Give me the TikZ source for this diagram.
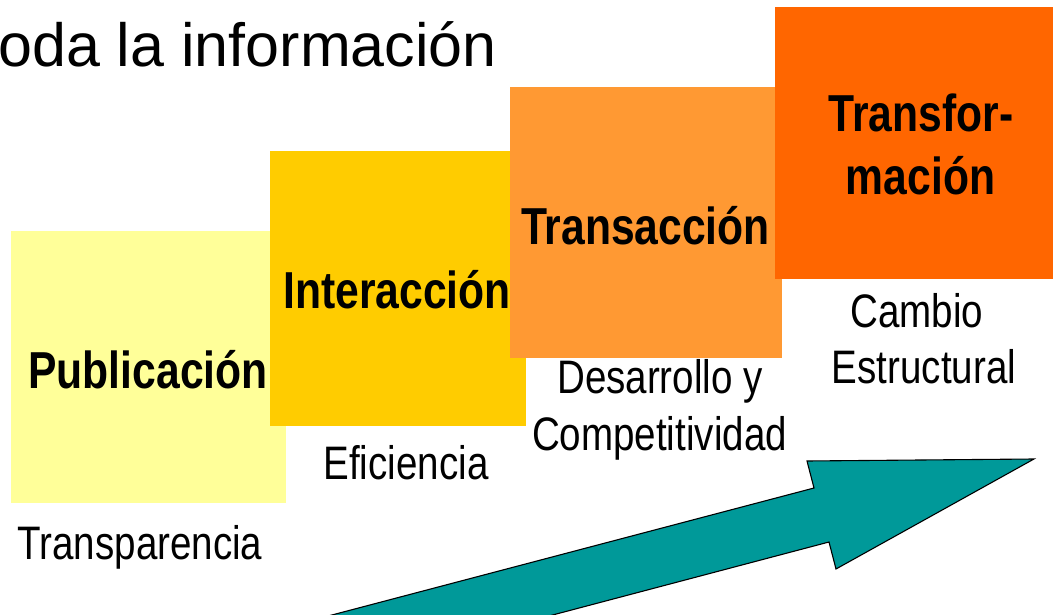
\documentclass[tikz,border=0pt]{standalone}
\usepackage{fontspec}
\setmainfont{Liberation Sans}
\newfontfamily\narrowsans[FakeStretch=0.82]{Liberation Sans}
\definecolor{pubc}{HTML}{FFFF99}
\definecolor{intc}{HTML}{FFCC00}
\definecolor{trac}{HTML}{FF9933}
\definecolor{tfmc}{HTML}{FF6600}
\definecolor{arrc}{HTML}{009999}
\begin{document}
\begin{tikzpicture}[x=1pt,y=-1pt,
  stagebox/.style={draw=none, inner sep=0pt, outer sep=0pt, anchor=north west},
  boxtitle/.style={anchor=base, inner sep=0pt, font=\narrowsans\bfseries\fontsize{52}{60}\selectfont},
  stagelabel/.style={anchor=base, inner sep=0pt, font=\narrowsans\fontsize{47}{56}\selectfont},
  bigarrow/.style={fill=arrc, draw=black, line width=1.1pt, line join=miter}
]
\useasboundingbox (0,0) rectangle (1053,615);
\clip (0,0) rectangle (1053,615);

\node[anchor=base east, inner sep=0pt, font=\fontsize{61}{70}\selectfont] (title) at (497,67) {oda la información};

% Publicación
\node[stagebox, fill=pubc, minimum width=275pt, minimum height=272pt] (b1) at (11,231) {};
\node[boxtitle] (t1) at (148,388) {Publicación};
% Interacción
\node[stagebox, fill=intc, minimum width=256pt, minimum height=275pt] (b2) at (270,151) {};
\node[boxtitle] (t2) at (397,308) {Interacción};
% Transacción
\node[stagebox, fill=trac, minimum width=272pt, minimum height=271pt] (b3) at (510,87) {};
\node[boxtitle] (t3) at (645.5,244) {Transacción};
% Transformación
\node[stagebox, fill=tfmc, minimum width=290pt, minimum height=272pt] (b4) at (775,7) {};
\node[boxtitle] (t4a) at (921,132) {Transfor-};
\node[boxtitle] (t4b) at (920.5,195) {mación};

% labels
\node[stagelabel] (l1) at (140,559) {Transparencia};
\node[stagelabel] (l2) at (406,479) {Eficiencia};
\node[stagelabel] (l3a) at (660,393) {Desarrollo y};
\node[stagelabel] (l3b) at (659.5,450) {Competitividad};
\node[stagelabel] (l4a) at (917,327) {Cambio};
\node[stagelabel] (l4b) at (924,383) {Estructural};

% arrow
\draw[bigarrow] (237,640) -- (814,488) -- (807,461) -- (1034,459) -- (836,569) -- (829,542) -- (458,640) -- cycle;
\end{tikzpicture}
\end{document}
